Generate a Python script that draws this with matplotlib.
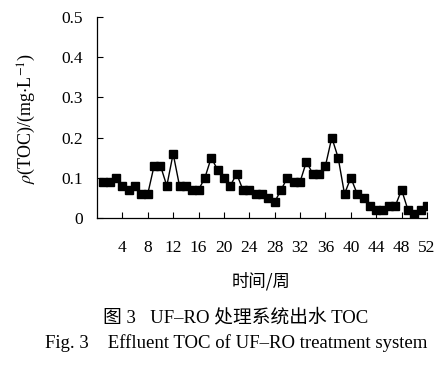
import matplotlib
matplotlib.use("Agg")
import matplotlib.pyplot as plt

plt.rcParams['font.family'] = ['Liberation Serif', 'Noto Sans CJK SC']
plt.rcParams['mathtext.fontset'] = 'stix'

weeks = list(range(1, 53))
toc = [0.09, 0.09, 0.10, 0.08, 0.07, 0.08, 0.06, 0.06, 0.13, 0.13,
       0.08, 0.16, 0.08, 0.08, 0.07, 0.07, 0.10, 0.15, 0.12, 0.10,
       0.08, 0.11, 0.07, 0.07, 0.06, 0.06, 0.05, 0.04, 0.07, 0.10,
       0.09, 0.09, 0.14, 0.11, 0.11, 0.13, 0.20, 0.15, 0.06, 0.10,
       0.06, 0.05, 0.03, 0.02, 0.02, 0.03, 0.03, 0.07, 0.02, 0.01,
       0.02, 0.03]
xticks = list(range(4, 53, 4))
yticks = [0, 0.1, 0.2, 0.3, 0.4, 0.5]
ytick_labels = ['0', '0.1', '0.2', '0.3', '0.4', '0.5']

fig = plt.figure(figsize=(4.46, 3.67), dpi=100)
ax = fig.add_axes([97/446, 1-218/367, (427-97)/446, (218-17)/367])
ax.plot(weeks, toc, color='black', lw=1.0, marker='s', markersize=5.5,
        markerfacecolor='black', markeredgecolor='black')
ax.set_xlim(0, 52)
ax.set_ylim(0, 0.5)
ax.set_xticks(xticks)
ax.set_xticklabels([str(t) for t in xticks])
ax.set_yticks(yticks)
ax.set_yticklabels(ytick_labels)
for s in ['top', 'right']:
    ax.spines[s].set_visible(False)
for s in ['left', 'bottom']:
    ax.spines[s].set_linewidth(0.9)
ax.tick_params(direction='in', length=4, width=0.8, labelsize=12.5, colors='black')
ax.tick_params(axis='x', pad=16)
ax.tick_params(axis='y', pad=10)

fig.text(27/446, 1-118/367, r'$\rho$(TOC)/(mg$\cdot$L$^{-1}$)', rotation=90,
         ha='center', va='center', fontsize=13)
fig.text(261/446, 1-281/367, '时间/周', ha='center', va='center', fontsize=12.5,
         family=['Noto Sans CJK SC'])
fig.text(236/446, 1-318/367, '图 3   UF–RO 处理系统出水 TOC', ha='center', va='center',
         fontsize=13.5, fontweight='medium',
         family=['Liberation Serif', 'Noto Sans CJK SC'])
fig.text(236/446, 1-343/367, 'Fig. 3    Effluent TOC of UF–RO treatment system',
         ha='center', va='center', fontsize=13.5)

fig.savefig('out.png', dpi=100, facecolor='white')
